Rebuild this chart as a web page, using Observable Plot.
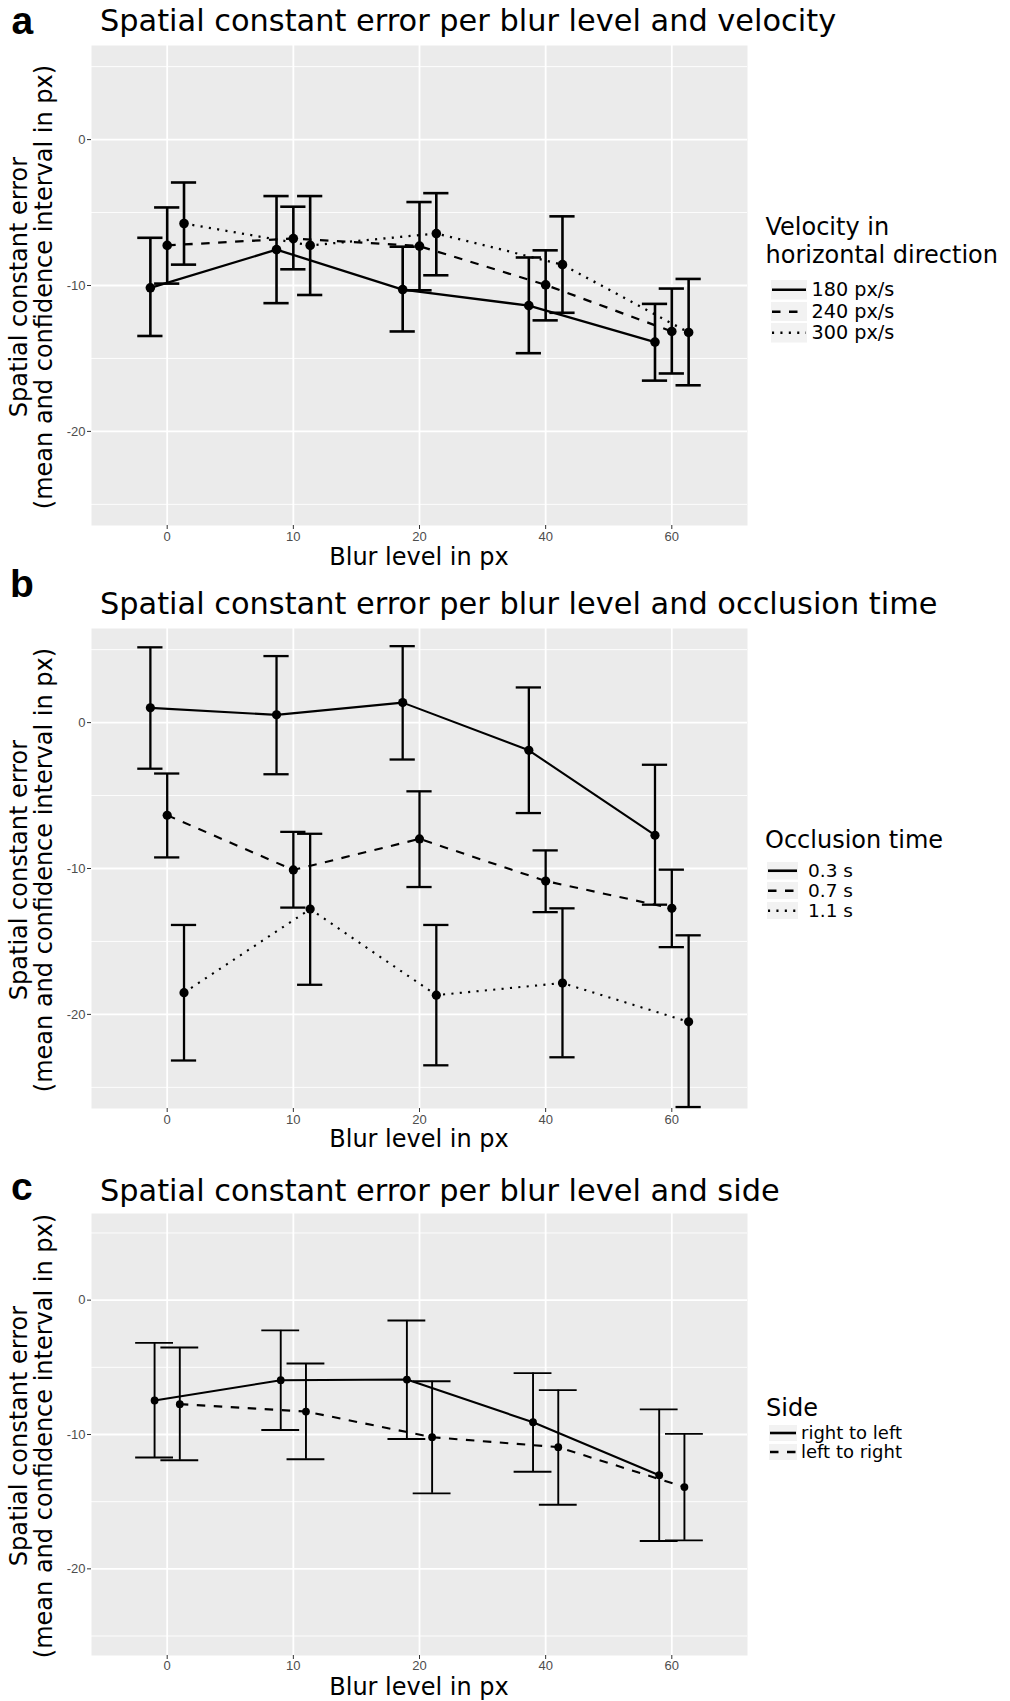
<!DOCTYPE html>
<html><head><meta charset="utf-8">
<script src="https://cdn.jsdelivr.net/npm/d3@7"></script>
<script src="https://cdn.jsdelivr.net/npm/@observablehq/plot@0.6"></script>
<style>
body{margin:0;background:#fff;}
#fig{position:relative;width:1010px;height:1701px;overflow:hidden;background:#fff;font-family:"DejaVu Sans",Verdana,sans-serif;color:#000;}
.abs{position:absolute;white-space:nowrap;line-height:1;}
.letter{font-family:"Liberation Sans",Arial,sans-serif;font-weight:bold;font-size:39px;}
.title{font-size:30.4px;}
.xlab{font-size:24px;text-align:center;width:400px;}
.ylab{font-size:24px;line-height:25px;text-align:center;width:480px;height:50px;transform:rotate(-90deg);}
.legtitle{font-size:24px;line-height:28px;}
</style></head>
<body><div id="fig"></div>
<script>
// ---------- data ----------
const blurLabels = ["0", "10", "20", "40", "60"];
const blurIndex = [1, 2, 3, 4, 5];
const majorTicks = [-20, -10, 0];
const minorTicks = [-25, -15, -5, 5];

// panel a: velocity
const velocityLevels = ["180 px/s", "240 px/s", "300 px/s"];
const v180Mean = [-10.16, -7.54, -10.28, -11.38, -13.88];
const v180Lo   = [-13.46, -11.21, -13.15, -14.64, -16.52];
const v180Hi   = [-6.73, -3.87, -7.34, -8.08, -11.26];
const v240Mean = [-7.25, -6.78, -7.30, -9.96, -13.15];
const v240Lo   = [-9.87, -8.89, -10.33, -12.39, -16.03];
const v240Hi   = [-4.65, -4.60, -4.28, -7.59, -10.21];
const v300Mean = [-5.75, -7.25, -6.44, -8.57, -13.22];
const v300Lo   = [-8.57, -10.65, -9.30, -11.87, -16.84];
const v300Hi   = [-2.94, -3.87, -3.67, -5.26, -9.55];

// panel b: occlusion time
const occlusionLevels = ["0.3 s", "0.7 s", "1.1 s"];
const o03Mean = [1.01, 0.53, 1.37, -1.90, -7.72];
const o03Lo   = [-3.16, -3.54, -2.53, -6.20, -12.48];
const o03Hi   = [5.16, 4.56, 5.24, 2.41, -2.89];
const o07Mean = [-6.35, -10.10, -7.97, -10.86, -12.73];
const o07Lo   = [-9.24, -12.68, -11.27, -12.99, -15.39];
const o07Hi   = [-3.49, -7.49, -4.71, -8.76, -10.08];
const o11Mean = [-18.51, -12.78, -18.68, -17.85, -20.51];
const o11Lo   = [-23.16, -17.97, -23.49, -22.94, -26.35];
const o11Hi   = [-13.87, -7.62, -13.87, -12.73, -14.58];

// panel c: side
const sideLevels = ["right to left", "left to right"];
const rtlMean = [-7.47, -5.96, -5.91, -9.09, -13.03];
const rtlLo   = [-11.71, -9.67, -10.33, -12.77, -17.93];
const rtlHi   = [-3.18, -2.25, -1.51, -5.43, -8.13];
const ltrMean = [-7.74, -8.29, -10.20, -10.94, -13.91];
const ltrLo   = [-11.92, -11.84, -14.38, -15.23, -17.88];
const ltrHi   = [-3.52, -4.72, -6.04, -6.70, -9.95];

// ---------- helpers ----------
const dashes = [undefined, "8.5 8.5", "2.1 6.3"];
const fig = document.getElementById("fig");

function buildRows(levels, means, los, his, dodgeWidth) {
  const n = levels.length, rows = [];
  levels.forEach((g, gi) => {
    const off = (gi - (n - 1) / 2) * dodgeWidth / n;
    blurIndex.forEach((bi, k) => rows.push({group: g, gi, pos: bi + off, mean: means[gi][k], lo: los[gi][k], hi: his[gi][k]}));
  });
  return rows;
}

function addText(cls, text, left, top, extra) {
  const d = document.createElement("div");
  d.className = "abs " + cls;
  d.innerHTML = text;
  d.style.left = left + "px";
  d.style.top = top + "px";
  if (extra) Object.assign(d.style, extra);
  fig.appendChild(d);
  return d;
}

function drawPanel(cfg) {
  const {rows, levels, svgTop, panelH, capWidth, barWidth, lineWidth, r, xlabBaseline, xPad = 2} = cfg;
  const capMarks = ["lo", "hi"].map(k => Plot.ruleY(rows, {
    y: k, x1: d => d.pos - capWidth / 2, x2: d => d.pos + capWidth / 2,
    stroke: "#000", strokeWidth: barWidth
  }));
  const chart = Plot.plot({
    width: 760,
    height: 5 + panelH + 20,
    marginLeft: 91, marginRight: 13, marginTop: 5, marginBottom: 20,
    style: {fontFamily: "'Liberation Sans', Arial, sans-serif", fontSize: "13px", background: "transparent", overflow: "visible"},
    x: {type: "linear", domain: [0.4, 5.6]},
    y: {type: "linear", domain: [-26.45, 6.45]},
    marks: [
      Plot.frame({fill: "#ebebeb", stroke: "none"}),
      Plot.gridY({ticks: minorTicks, stroke: "#fff", strokeOpacity: 1, strokeWidth: 0.9}),
      Plot.gridY({ticks: majorTicks, stroke: "#fff", strokeOpacity: 1, strokeWidth: 1.8}),
      Plot.gridX({ticks: blurIndex, stroke: "#fff", strokeOpacity: 1, strokeWidth: 1.8}),
      Plot.axisY({ticks: majorTicks, tickFormat: d => String(d), tickSize: 4, tickPadding: 2, fontSize: 13, stroke: "#333", fill: "#4d4d4d", label: null}),
      Plot.axisX({ticks: blurIndex, tickFormat: i => blurLabels[i - 1], tickSize: 4, tickPadding: xPad, fontSize: 13, stroke: "#333", fill: "#4d4d4d", label: null}),
      ...levels.map((g, gi) => Plot.line(rows.filter(d => d.group === g), {
        x: "pos", y: "mean", stroke: "#000", strokeWidth: lineWidth,
        strokeDasharray: dashes[gi], strokeLinecap: "butt"
      })),
      Plot.ruleX(rows, {x: "pos", y1: "lo", y2: "hi", stroke: "#000", strokeWidth: barWidth}),
      ...capMarks,
      Plot.dot(rows, {x: "pos", y: "mean", r, fill: "#000", stroke: null})
    ]
  });
  chart.style.position = "absolute";
  chart.style.left = "0px";
  chart.style.top = svgTop + "px";
  fig.appendChild(chart);

  const panelTop = svgTop + 5, panelBottom = panelTop + panelH;
  const cx = (91 + 747) / 2, cy = (panelTop + panelBottom) / 2;
  const xb = xlabBaseline !== undefined ? xlabBaseline : panelBottom + 40;
  // x axis title
  addText("xlab", "Blur level in px", cx - 200, xb - 0.846 * 24);
  // y axis title (two lines, rotated)
  addText("ylab", "Spatial constant error<br>(mean and confidence interval in px)", 32 - 240, cy - 25 + 2);
}

function drawLegend(cfg) {
  const {title, titleBaseline, titleLeft, rowTop, rowH, boxX, boxW, boxH, textX, fs, levels} = cfg;
  // baseline of first line for line-height 28 and 24px DejaVu Sans
  addText("legtitle", title, titleLeft, titleBaseline - ((28 - 1.164 * 24) / 2 + 0.928 * 24));
  levels.forEach((g, gi) => {
    const top = rowTop + gi * rowH;
    const svg = d3.create("svg")
      .attr("width", boxW).attr("height", boxH)
      .style("position", "absolute")
      .style("left", boxX + "px")
      .style("top", (top + (rowH - boxH) / 2) + "px");
    svg.append("rect").attr("width", boxW).attr("height", boxH).attr("fill", "#f2f2f2");
    svg.append("line")
      .attr("x1", 1).attr("x2", boxW - 1)
      .attr("y1", boxH / 2).attr("y2", boxH / 2)
      .attr("stroke", "#000").attr("stroke-width", 2.6)
      .attr("stroke-dasharray", dashes[gi] || null);
    fig.appendChild(svg.node());
  });
  addText("legtext", levels.join("<br>"), textX, rowTop, {lineHeight: rowH + "px", fontSize: fs + "px"});
}

// ---------- panel a ----------
addText("letter", "a", 11.5, 0.5, {lineHeight: "1"});
addText("title", "Spatial constant error per blur level and velocity", 100, 32 - 0.846 * 30.4);
drawPanel({
  rows: buildRows(velocityLevels, [v180Mean, v240Mean, v300Mean], [v180Lo, v240Lo, v300Lo], [v180Hi, v240Hi, v300Hi], 0.4),
  levels: velocityLevels, svgTop: 40, panelH: 480, capWidth: 0.2, barWidth: 2.6, lineWidth: 2.3, r: 4.8
});
drawLegend({
  title: "Velocity in<br>horizontal direction", titleBaseline: 235, titleLeft: 765.5,
  rowTop: 279, rowH: 21.5, boxX: 771, boxW: 36, boxH: 19.5, textX: 811.5, fs: 19.2, levels: velocityLevels
});

// ---------- panel b ----------
addText("letter", "b", 10, 597 - 0.846 * 39);
addText("title", "Spatial constant error per blur level and occlusion time", 100, 615 - 0.846 * 30.4);
drawPanel({
  rows: buildRows(occlusionLevels, [o03Mean, o07Mean, o11Mean], [o03Lo, o07Lo, o11Lo], [o03Hi, o07Hi, o11Hi], 0.4),
  levels: occlusionLevels, svgTop: 622.6, panelH: 480, capWidth: 0.2, barWidth: 2.3, lineWidth: 2.1, r: 4.6
});
drawLegend({
  title: "Occlusion time", titleBaseline: 848, titleLeft: 765,
  rowTop: 861, rowH: 19.8, boxX: 767, boxW: 31, boxH: 17.5, textX: 808, fs: 18.5, levels: occlusionLevels
});

// ---------- panel c ----------
addText("letter", "c", 11, 1200 - 0.846 * 39);
addText("title", "Spatial constant error per blur level and side", 100, 1202 - 0.846 * 30.4);
drawPanel({
  rows: buildRows(sideLevels, [rtlMean, ltrMean], [rtlLo, ltrLo], [rtlHi, ltrHi], 0.4),
  levels: sideLevels, svgTop: 1208, panelH: 442, capWidth: 0.3, barWidth: 1.9, lineWidth: 2.1, r: 3.9,
  xlabBaseline: 1695, xPad: 1
});
drawLegend({
  title: "Side", titleBaseline: 1416, titleLeft: 766,
  rowTop: 1423, rowH: 19.4, boxX: 769, boxW: 28, boxH: 16, textX: 801, fs: 18, levels: sideLevels
});
</script></body></html>
